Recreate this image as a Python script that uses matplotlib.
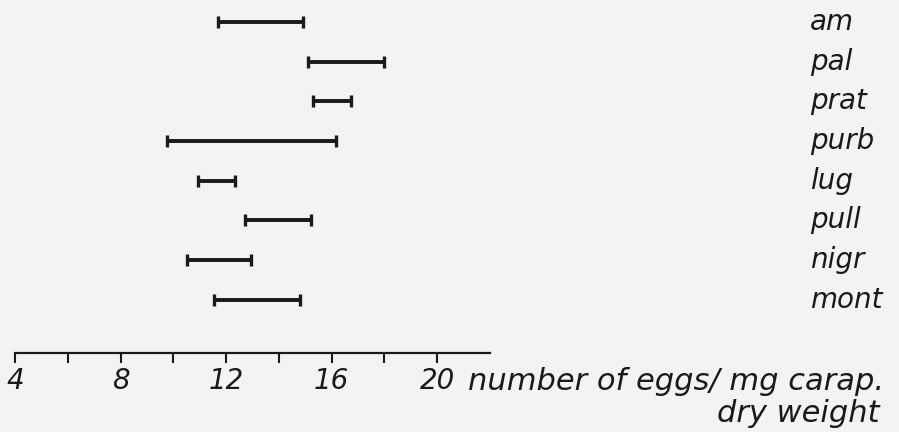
"""Egg number per mg carapace dry weight: ranges for eight species."""

import matplotlib
matplotlib.use("Agg")
import matplotlib.pyplot as plt
import matplotlib.transforms as mtransforms

# Species (top to bottom) and range of eggs / mg carapace dry weight
species = ["am", "pal", "prat", "purb", "lug", "pull", "nigr", "mont"]
low = [11.7, 15.1, 15.3, 9.75, 10.95, 12.7, 10.5, 11.55]
high = [14.9, 18.0, 16.75, 16.15, 12.35, 15.2, 12.95, 14.8]

x_ticks = [4, 6, 8, 10, 12, 14, 16, 18, 20]
x_ticklabels = ["4", "", "8", "", "12", "", "16", "", "20"]

BG = "#f3f3f3"
INK = "#1a1a1a"
FONT = dict(family="DejaVu Sans", style="italic", color=INK)

fig = plt.figure(figsize=(8.99, 4.32), dpi=100, facecolor=BG)
ax = fig.add_axes([15 / 899, 1 - 353 / 432, 475 / 899, 353 / 432])
ax.set_facecolor(BG)

for i, (lo, hi) in enumerate(zip(low, high)):
    ax.plot([lo, hi], [i, i], color=INK, lw=2.8, solid_capstyle="butt")
    ax.plot([lo, hi], [i, i], ls="none", marker="|", ms=9, mew=2.4, color=INK)

ax.set_xlim(4, 22)
ax.set_ylim(8.34, -0.55)

for side in ["top", "right", "left"]:
    ax.spines[side].set_visible(False)
ax.spines["bottom"].set_linewidth(1.6)
ax.spines["bottom"].set_color(INK)
ax.set_yticks([])
ax.set_xticks(x_ticks)
ax.set_xticklabels(x_ticklabels, fontsize=20, fontstyle="italic", color=INK)
ax.tick_params(axis="x", direction="out", length=7, width=1.5, color=INK, pad=3)

# species names at the right, aligned with their rows
lab_tr = mtransforms.blended_transform_factory(fig.transFigure, ax.transData)
for i, name in enumerate(species):
    ax.text(810 / 899, i, name, transform=lab_tr, ha="left", va="center",
            fontsize=20, clip_on=False, **FONT)

# axis title running on from the last tick label
fig.text(468 / 899, 1 - 381 / 432, "number of eggs/ mg carap.",
         ha="left", va="center", fontsize=22, **FONT)
fig.text(880 / 899, 1 - 413 / 432, "dry weight",
         ha="right", va="center", fontsize=22, **FONT)

fig.savefig("out.png", dpi=100, facecolor=BG)
